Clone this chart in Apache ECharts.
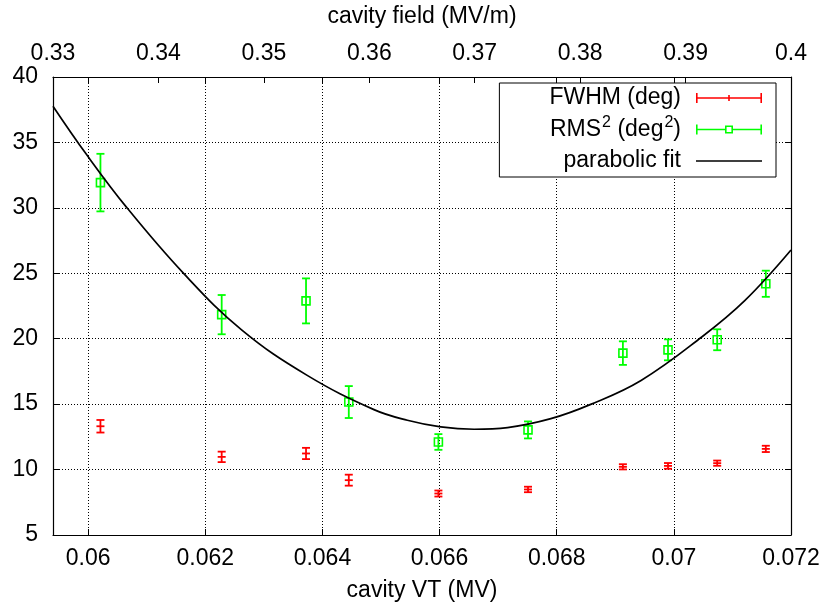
<!DOCTYPE html>
<html><head><meta charset="utf-8">
<script src="https://cdn.jsdelivr.net/npm/echarts@6/dist/echarts.min.js"></script>
<style>html,body{margin:0;padding:0;background:#fff}#c{width:827px;height:612px}</style>
</head><body><div id="c"></div>
<script>
// ---- data ----
const vt       = [0.06021, 0.06228, 0.06372, 0.06445, 0.06598, 0.06751, 0.06913, 0.06990, 0.07074, 0.07157];
const fwhm     = [13.31, 10.97, 11.23, 9.19, 8.17, 8.48, 10.21, 10.28, 10.49, 11.58];
const fwhmErr  = [0.48, 0.40, 0.43, 0.42, 0.23, 0.21, 0.20, 0.22, 0.20, 0.24];
const rms2     = [31.93, 21.84, 22.89, 15.16, 12.11, 13.03, 18.90, 19.15, 19.92, 24.20];
const rms2Err  = [2.20, 1.50, 1.72, 1.22, 0.60, 0.65, 0.90, 0.80, 0.80, 1.00];
const fitVT    = [0.05940, 0.05997, 0.06066, 0.06163, 0.06262, 0.06374, 0.06488, 0.06545, 0.06602, 0.06659, 0.06716, 0.06790, 0.06858, 0.06944, 0.07047, 0.07121, 0.07200];
const fitVal   = [37.77, 34.09, 30.02, 24.99, 20.68, 17.20, 14.58, 13.77, 13.26, 13.08, 13.21, 13.89, 14.98, 16.81, 20.11, 22.91, 26.78];
const xTicks   = [0.06, 0.062, 0.064, 0.066, 0.068, 0.07, 0.072];
const x2Ticks  = [0.33, 0.34, 0.35, 0.36, 0.37, 0.38, 0.39, 0.40];
const yTicks   = [5, 10, 15, 20, 25, 30, 35, 40];
const names    = ['FWHM (deg)', 'RMS2 (deg2)', 'parabolic fit'];

const FONT = 'Liberation Sans, Arial, Helvetica, sans-serif';
const RED = '#ff0000', GREEN = '#00ff00';

function errRender(marker, color) {
  return function (params, api) {
    const x = api.value(0), y = api.value(1), e = api.value(2);
    const p = api.coord([x, y]);
    const t = api.coord([x, y + e]);
    const b = api.coord([x, y - e]);
    const cw = 4;
    const st = { stroke: color, lineWidth: 1.8, fill: 'none' };
    const ch = [
      { type: 'line', shape: { x1: p[0], y1: t[1], x2: p[0], y2: b[1] }, style: st },
      { type: 'line', shape: { x1: p[0] - cw, y1: t[1], x2: p[0] + cw, y2: t[1] }, style: st },
      { type: 'line', shape: { x1: p[0] - cw, y1: b[1], x2: p[0] + cw, y2: b[1] }, style: st }
    ];
    if (marker === 'square') {
      ch.push({ type: 'rect', shape: { x: p[0] - 4, y: p[1] - 4, width: 8, height: 8 }, style: { stroke: color, lineWidth: 1.6, fill: 'none' } });
    } else {
      ch.push({ type: 'line', shape: { x1: p[0] - 4, y1: p[1], x2: p[0] + 4, y2: p[1] }, style: st });
    }
    return { type: 'group', children: ch };
  };
}

const iconRed = 'path://M0,0h1.6v10h-1.6z M64.4,0h1.6v10h-1.6z M1.6,4.2h62.8v1.6h-62.8z M32.2,2h1.6v6h-1.6z';
const iconGreen = 'path://M0,0h1.6v10h-1.6z M64.4,0h1.6v10h-1.6z M1.6,4.2h27.4v1.6h-27.4z M37,4.2h27.4v1.6h-27.4z M29,1h8v8h-8z M30.6,2.6v4.8h4.8v-4.8z';
const iconLine = 'path://M0,4.25h66v1.5h-66z M0,0h0.01v0.01h-0.01z M0,9.99h0.01v0.01h-0.01z';

const axisLineStyle = { color: '#000', width: 1.2 };
const labelStyle = { fontFamily: FONT, fontSize: 23, color: '#000' };

const chart = echarts.init(document.getElementById('c'), null, { renderer: 'canvas' });
chart.setOption({
  backgroundColor: '#fff',
  animation: false,
  grid: { left: 53, right: 36, top: 76, bottom: 77, containLabel: false },
  legend: {
    orient: 'vertical', align: 'right',
    right: 51, top: 83,
    backgroundColor: '#fff', borderColor: '#000', borderWidth: 1, borderRadius: 0,
    padding: [0, 14, 1, 50],
    itemWidth: 66, itemHeight: 10, itemGap: 1.5,
    symbolKeepAspect: false,
    textStyle: {
      fontFamily: FONT, fontSize: 23, color: '#000', lineHeight: 30, padding: [0, 10, 0, 0],
      rich: { sup: { fontFamily: FONT, fontSize: 16, color: '#000', verticalAlign: 'top', lineHeight: 13, padding: [0, 0, 0, 1] } }
    },
    formatter: function (n) {
      if (n === names[1]) return 'RMS{sup|2} (deg{sup|2})';
      return n;
    },
    data: [
      { name: names[0], icon: iconRed },
      { name: names[1], icon: iconGreen },
      { name: names[2], icon: iconLine }
    ]
  },
  xAxis: [
    {
      type: 'value', position: 'bottom', min: 0.0594, max: 0.072, splitNumber: 6,
      name: 'cavity VT (MV)', nameLocation: 'middle', nameGap: 44,
      nameTextStyle: labelStyle,
      axisLine: { show: true, onZero: false, lineStyle: axisLineStyle },
      axisTick: { show: true, inside: true, length: 6, lineStyle: { color: '#000' }, customValues: xTicks },
      axisLabel: Object.assign({ margin: 12, customValues: xTicks }, labelStyle),
      splitLine: { show: true, lineStyle: { color: '#000', width: 1, type: [1, 2] } }
    },
    {
      type: 'value', position: 'top', min: 0.33, max: 0.40, interval: 0.01,
      name: 'cavity field (MV/m)', nameLocation: 'middle', nameGap: 49,
      nameTextStyle: labelStyle,
      axisLine: { show: true, onZero: false, lineStyle: axisLineStyle },
      axisTick: { show: true, inside: true, length: 6, lineStyle: { color: '#000' }, customValues: x2Ticks },
      axisLabel: Object.assign({ margin: 12, customValues: x2Ticks }, labelStyle),
      splitLine: { show: false }
    },
    {
      type: 'value', position: 'top', min: 0.0594, max: 0.072, splitNumber: 6,
      axisLine: { show: false, onZero: false },
      axisTick: { show: true, inside: true, length: 6, lineStyle: { color: '#000' }, customValues: xTicks },
      axisLabel: { show: false },
      splitLine: { show: false }
    }
  ],
  yAxis: [
    {
      type: 'value', position: 'left', min: 5, max: 40, interval: 5,
      axisLine: { show: true, onZero: false, lineStyle: axisLineStyle },
      axisTick: { show: true, inside: true, length: 6, lineStyle: { color: '#000' }, customValues: yTicks },
      axisLabel: Object.assign({ margin: 15, customValues: yTicks }, labelStyle),
      splitLine: { show: true, lineStyle: { color: '#000', width: 1, type: [1, 2] } }
    },
    {
      type: 'value', position: 'right', min: 5, max: 40, interval: 5,
      axisLine: { show: true, onZero: false, lineStyle: axisLineStyle },
      axisTick: { show: true, inside: true, length: 6, lineStyle: { color: '#000' } },
      axisLabel: { show: false },
      splitLine: { show: false }
    }
  ],
  series: [
    {
      name: names[0], type: 'custom', xAxisIndex: 0, yAxisIndex: 0,
      itemStyle: { color: RED },
      renderItem: errRender('plus', RED),
      encode: { x: 0, y: 1 },
      data: vt.map((x, i) => [x, fwhm[i], fwhmErr[i]]),
      z: 3
    },
    {
      name: names[1], type: 'custom', xAxisIndex: 0, yAxisIndex: 0,
      itemStyle: { color: GREEN },
      renderItem: errRender('square', GREEN),
      encode: { x: 0, y: 1 },
      data: vt.map((x, i) => [x, rms2[i], rms2Err[i]]),
      z: 3
    },
    {
      name: names[2], type: 'line', xAxisIndex: 0, yAxisIndex: 0,
      smooth: 0.4, showSymbol: false, symbol: 'none',
      itemStyle: { color: '#000' },
      lineStyle: { color: '#000', width: 1.7 },
      data: fitVT.map((x, i) => [x, fitVal[i]]),
      clip: true,
      z: 4
    }
  ]
});
</script>
</body></html>
